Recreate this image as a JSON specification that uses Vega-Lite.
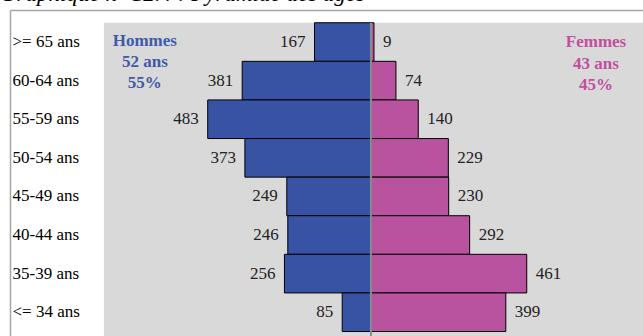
{
  "$schema": "https://vega.github.io/schema/vega-lite/v6.json",
  "width": 633,
  "height": 326,
  "autosize": {"type": "none"},
  "padding": {"left": 10, "top": 10, "right": 0, "bottom": 0},
  "background": "white",
  "title": {
    "text": "Graphique n° 12.4 : Pyramide des âges",
    "anchor": "start",
    "frame": "group",
    "font": "Liberation Serif",
    "fontStyle": "italic",
    "fontWeight": "normal",
    "fontSize": 23,
    "color": "black",
    "offset": 1,
    "baseline": "alphabetic",
    "dx": -10,
    "dy": 15
  },
  "config": {"view": {"stroke": null}, "font": "Liberation Serif"},
  "datasets": {
    "pyramide": [
      {"age": ">= 65 ans", "sexe": "Hommes", "effectif": 167},
      {"age": "60-64 ans", "sexe": "Hommes", "effectif": 381},
      {"age": "55-59 ans", "sexe": "Hommes", "effectif": 483},
      {"age": "50-54 ans", "sexe": "Hommes", "effectif": 373},
      {"age": "45-49 ans", "sexe": "Hommes", "effectif": 249},
      {"age": "40-44 ans", "sexe": "Hommes", "effectif": 246},
      {"age": "35-39 ans", "sexe": "Hommes", "effectif": 256},
      {"age": "<= 34 ans", "sexe": "Hommes", "effectif": 85},
      {"age": ">= 65 ans", "sexe": "Femmes", "effectif": 9},
      {"age": "60-64 ans", "sexe": "Femmes", "effectif": 74},
      {"age": "55-59 ans", "sexe": "Femmes", "effectif": 140},
      {"age": "50-54 ans", "sexe": "Femmes", "effectif": 229},
      {"age": "45-49 ans", "sexe": "Femmes", "effectif": 230},
      {"age": "40-44 ans", "sexe": "Femmes", "effectif": 292},
      {"age": "35-39 ans", "sexe": "Femmes", "effectif": 461},
      {"age": "<= 34 ans", "sexe": "Femmes", "effectif": 399}
    ]
  },
  "layer": [
    {
      "data": {"values": [{"zone": "fond"}]},
      "mark": {"type": "rect", "color": "#d9d9d9"},
      "encoding": {
        "x": {"datum": -790, "type": "quantitative", "scale": {"domain": [-1068, 805], "nice": false, "zero": false}, "axis": {"orient": "top", "domain": true, "domainColor": "#a6a6a6", "domainWidth": 1.5, "labels": false, "ticks": false, "grid": false, "title": null}},
        "x2": {"datum": 805},
        "y": {"datum": ">= 65 ans", "type": "nominal", "bandPosition": 0, "scale": {"domain": [">= 65 ans", "60-64 ans", "55-59 ans", "50-54 ans", "45-49 ans", "40-44 ans", "35-39 ans", "<= 34 ans"], "paddingInner": 0, "paddingOuter": 0.223, "align": 0.74}, "axis": {"orient": "left", "domain": true, "domainColor": "#a6a6a6", "domainWidth": 1.5, "ticks": false, "tickSize": 0, "labelPadding": -2, "labelAlign": "left", "labelFont": "Liberation Serif", "labelFontSize": 17, "labelColor": "black", "grid": false, "title": null}},
        "y2": {"value": "height"}
      }
    },
    {
      "data": {"name": "pyramide"},
      "transform": [{"calculate": "datum.sexe === 'Hommes' ? -datum.effectif : datum.effectif", "as": "x"}],
      "mark": {"type": "rect", "stroke": "black", "strokeWidth": 1},
      "encoding": {
        "x": {"field": "x", "type": "quantitative", "scale": {"domain": [-1068, 805], "nice": false, "zero": false}, "axis": {"orient": "top", "domain": true, "domainColor": "#a6a6a6", "domainWidth": 1.5, "labels": false, "ticks": false, "grid": false, "title": null}},
        "x2": {"datum": 0},
        "y": {"field": "age", "type": "nominal", "scale": {"domain": [">= 65 ans", "60-64 ans", "55-59 ans", "50-54 ans", "45-49 ans", "40-44 ans", "35-39 ans", "<= 34 ans"], "paddingInner": 0, "paddingOuter": 0.223, "align": 0.74}, "axis": {"orient": "left", "domain": true, "domainColor": "#a6a6a6", "domainWidth": 1.5, "ticks": false, "tickSize": 0, "labelPadding": -2, "labelAlign": "left", "labelFont": "Liberation Serif", "labelFontSize": 17, "labelColor": "black", "grid": false, "title": null}},
        "color": {"field": "sexe", "type": "nominal", "scale": {"domain": ["Hommes", "Femmes"], "range": ["#3953a4", "#b9529f"]}, "legend": null}
      }
    },
    {
      "data": {"values": [{"zone": "axe"}]},
      "mark": {"type": "rule", "color": "#8c8c8c", "strokeWidth": 2},
      "encoding": {
        "x": {"datum": 0, "type": "quantitative", "scale": {"domain": [-1068, 805], "nice": false, "zero": false}, "axis": {"orient": "top", "domain": true, "domainColor": "#a6a6a6", "domainWidth": 1.5, "labels": false, "ticks": false, "grid": false, "title": null}},
        "y": {"datum": ">= 65 ans", "type": "nominal", "bandPosition": 0, "scale": {"domain": [">= 65 ans", "60-64 ans", "55-59 ans", "50-54 ans", "45-49 ans", "40-44 ans", "35-39 ans", "<= 34 ans"], "paddingInner": 0, "paddingOuter": 0.223, "align": 0.74}, "axis": {"orient": "left", "domain": true, "domainColor": "#a6a6a6", "domainWidth": 1.5, "ticks": false, "tickSize": 0, "labelPadding": -2, "labelAlign": "left", "labelFont": "Liberation Serif", "labelFontSize": 17, "labelColor": "black", "grid": false, "title": null}},
        "y2": {"value": "height"}
      }
    },
    {
      "data": {"name": "pyramide"},
      "transform": [{"filter": "datum.sexe === 'Hommes'"}, {"calculate": "-datum.effectif", "as": "x"}],
      "mark": {"type": "text", "align": "right", "baseline": "middle", "dx": -9, "font": "Liberation Serif", "fontSize": 17, "color": "#222222"},
      "encoding": {
        "x": {"field": "x", "type": "quantitative", "scale": {"domain": [-1068, 805], "nice": false, "zero": false}, "axis": {"orient": "top", "domain": true, "domainColor": "#a6a6a6", "domainWidth": 1.5, "labels": false, "ticks": false, "grid": false, "title": null}},
        "y": {"field": "age", "type": "nominal", "scale": {"domain": [">= 65 ans", "60-64 ans", "55-59 ans", "50-54 ans", "45-49 ans", "40-44 ans", "35-39 ans", "<= 34 ans"], "paddingInner": 0, "paddingOuter": 0.223, "align": 0.74}, "axis": {"orient": "left", "domain": true, "domainColor": "#a6a6a6", "domainWidth": 1.5, "ticks": false, "tickSize": 0, "labelPadding": -2, "labelAlign": "left", "labelFont": "Liberation Serif", "labelFontSize": 17, "labelColor": "black", "grid": false, "title": null}},
        "text": {"field": "effectif", "type": "quantitative"}
      }
    },
    {
      "data": {"name": "pyramide"},
      "transform": [{"filter": "datum.sexe === 'Femmes'"}],
      "mark": {"type": "text", "align": "left", "baseline": "middle", "dx": 9, "font": "Liberation Serif", "fontSize": 17, "color": "#222222"},
      "encoding": {
        "x": {"field": "effectif", "type": "quantitative", "scale": {"domain": [-1068, 805], "nice": false, "zero": false}, "axis": {"orient": "top", "domain": true, "domainColor": "#a6a6a6", "domainWidth": 1.5, "labels": false, "ticks": false, "grid": false, "title": null}},
        "y": {"field": "age", "type": "nominal", "scale": {"domain": [">= 65 ans", "60-64 ans", "55-59 ans", "50-54 ans", "45-49 ans", "40-44 ans", "35-39 ans", "<= 34 ans"], "paddingInner": 0, "paddingOuter": 0.223, "align": 0.74}, "axis": {"orient": "left", "domain": true, "domainColor": "#a6a6a6", "domainWidth": 1.5, "ticks": false, "tickSize": 0, "labelPadding": -2, "labelAlign": "left", "labelFont": "Liberation Serif", "labelFontSize": 17, "labelColor": "black", "grid": false, "title": null}},
        "text": {"field": "effectif", "type": "quantitative"}
      }
    },
    {
      "data": {"values": [{"texte": "Hommes\n52 ans\n55%"}]},
      "mark": {"type": "text", "align": "center", "baseline": "middle", "lineBreak": "\n", "lineHeight": 21, "dy": -1, "font": "Liberation Serif", "fontWeight": "bold", "fontSize": 17, "color": "#3f5aa8"},
      "encoding": {
        "x": {"datum": -669, "type": "quantitative", "scale": {"domain": [-1068, 805], "nice": false, "zero": false}, "axis": {"orient": "top", "domain": true, "domainColor": "#a6a6a6", "domainWidth": 1.5, "labels": false, "ticks": false, "grid": false, "title": null}},
        "y": {"datum": ">= 65 ans", "type": "nominal", "scale": {"domain": [">= 65 ans", "60-64 ans", "55-59 ans", "50-54 ans", "45-49 ans", "40-44 ans", "35-39 ans", "<= 34 ans"], "paddingInner": 0, "paddingOuter": 0.223, "align": 0.74}, "axis": {"orient": "left", "domain": true, "domainColor": "#a6a6a6", "domainWidth": 1.5, "ticks": false, "tickSize": 0, "labelPadding": -2, "labelAlign": "left", "labelFont": "Liberation Serif", "labelFontSize": 17, "labelColor": "black", "grid": false, "title": null}},
        "text": {"field": "texte", "type": "nominal"}
      }
    },
    {
      "data": {"values": [{"texte": "Femmes\n43 ans\n45%"}]},
      "mark": {"type": "text", "align": "center", "baseline": "middle", "lineBreak": "\n", "lineHeight": 21.5, "dy": 0, "font": "Liberation Serif", "fontWeight": "bold", "fontSize": 17, "color": "#c0509f"},
      "encoding": {
        "x": {"datum": 666, "type": "quantitative", "scale": {"domain": [-1068, 805], "nice": false, "zero": false}, "axis": {"orient": "top", "domain": true, "domainColor": "#a6a6a6", "domainWidth": 1.5, "labels": false, "ticks": false, "grid": false, "title": null}},
        "y": {"datum": ">= 65 ans", "type": "nominal", "scale": {"domain": [">= 65 ans", "60-64 ans", "55-59 ans", "50-54 ans", "45-49 ans", "40-44 ans", "35-39 ans", "<= 34 ans"], "paddingInner": 0, "paddingOuter": 0.223, "align": 0.74}, "axis": {"orient": "left", "domain": true, "domainColor": "#a6a6a6", "domainWidth": 1.5, "ticks": false, "tickSize": 0, "labelPadding": -2, "labelAlign": "left", "labelFont": "Liberation Serif", "labelFontSize": 17, "labelColor": "black", "grid": false, "title": null}},
        "text": {"field": "texte", "type": "nominal"}
      }
    }
  ]
}
